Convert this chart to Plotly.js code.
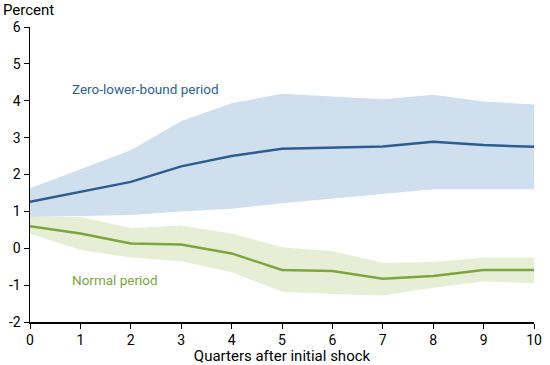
<!DOCTYPE html>
<html>
<head>
<meta charset="utf-8">
<script src="https://cdn.plot.ly/plotly-3.0.1.min.js"></script>
<style>html,body{margin:0;padding:0;background:#fff;}#chart{width:550px;height:365px;}</style>
</head>
<body>
<div id="chart"></div>
<script>
var quarters = [0,1,2,3,4,5,6,7,8,9,10];
var zlbMid   = [1.26,1.52,1.80,2.22,2.50,2.70,2.74,2.76,2.89,2.80,2.75];
var zlbUpper = [1.63,2.15,2.66,3.45,3.93,4.19,4.12,4.04,4.16,3.98,3.90];
var zlbLower = [0.85,0.88,0.90,1.00,1.07,1.22,1.35,1.48,1.60,1.60,1.60];
var normMid   = [0.60,0.40,0.13,0.10,-0.14,-0.59,-0.62,-0.83,-0.75,-0.59,-0.59];
var normUpper = [0.85,0.85,0.55,0.62,0.40,0.03,-0.08,-0.39,-0.37,-0.25,-0.25];
var normLower = [0.40,-0.05,-0.25,-0.35,-0.65,-1.18,-1.24,-1.28,-1.07,-0.90,-0.95];
var yTicks = [-2,-1,0,1,2,3,4,5,6];
var yTickText = ['-2','-1','0','1','2','3','4','5','6'];

var blueBand = '#cfdfee', blueLine = '#2d5d90';
var greenBand = '#e6efd6', greenLine = '#7ca63b';

var traces = [
  {x: quarters, y: zlbLower, mode:'lines', line:{width:0}, hoverinfo:'skip', showlegend:false},
  {x: quarters, y: zlbUpper, mode:'lines', line:{width:0}, fill:'tonexty', fillcolor: blueBand, hoverinfo:'skip', showlegend:false},
  {x: quarters, y: normLower, mode:'lines', line:{width:0}, hoverinfo:'skip', showlegend:false},
  {x: quarters, y: normUpper, mode:'lines', line:{width:0}, fill:'tonexty', fillcolor: greenBand, hoverinfo:'skip', showlegend:false},
  {x: quarters, y: zlbMid, mode:'lines', line:{color: blueLine, width:2.5}, showlegend:false},
  {x: quarters, y: normMid, mode:'lines', line:{color: greenLine, width:2.5}, showlegend:false}
];

var layout = {
  width: 550, height: 365,
  margin: {l:30, r:16, t:27, b:43},
  paper_bgcolor:'#fff', plot_bgcolor:'#fff',
  font: {family:'Roboto, "Open Sans", sans-serif', size:15, color:'#000'},
  xaxis: {
    range:[0,10], tickvals: quarters, ticks:'outside', ticklen:5, tickcolor:'#000',
    showline:true, linecolor:'#000', linewidth:1.5, showgrid:false, zeroline:false,
    tickfont:{size:14}, fixedrange:true,
    title:{text:'Quarters after initial shock', font:{size:15}, standoff:1}
  },
  yaxis: {
    range:[-2,6], tickvals: yTicks, ticktext: yTickText, ticks:'outside', ticklen:5, tickcolor:'#000',
    showline:true, linecolor:'#000', linewidth:1.5, showgrid:false, zeroline:false,
    tickfont:{size:14}, fixedrange:true
  },
  annotations: [
    {text:'Percent', xref:'paper', yref:'paper', x:-0.058, y:1.02, xanchor:'left', yanchor:'bottom', showarrow:false, font:{size:15, color:'#000'}},
    {text:'Zero-lower-bound period', xref:'x', yref:'y', x:0.80, y:4.31, xanchor:'left', yanchor:'middle', showarrow:false, font:{size:13.5, color:'#2f5f98'}},
    {text:'Normal period', xref:'x', yref:'y', x:0.80, y:-0.85, xanchor:'left', yanchor:'middle', showarrow:false, font:{size:13.5, color:'#7ca63b'}}
  ]
};

Plotly.newPlot('chart', traces, layout, {displayModeBar:false, staticPlot:true});
</script>
</body>
</html>
